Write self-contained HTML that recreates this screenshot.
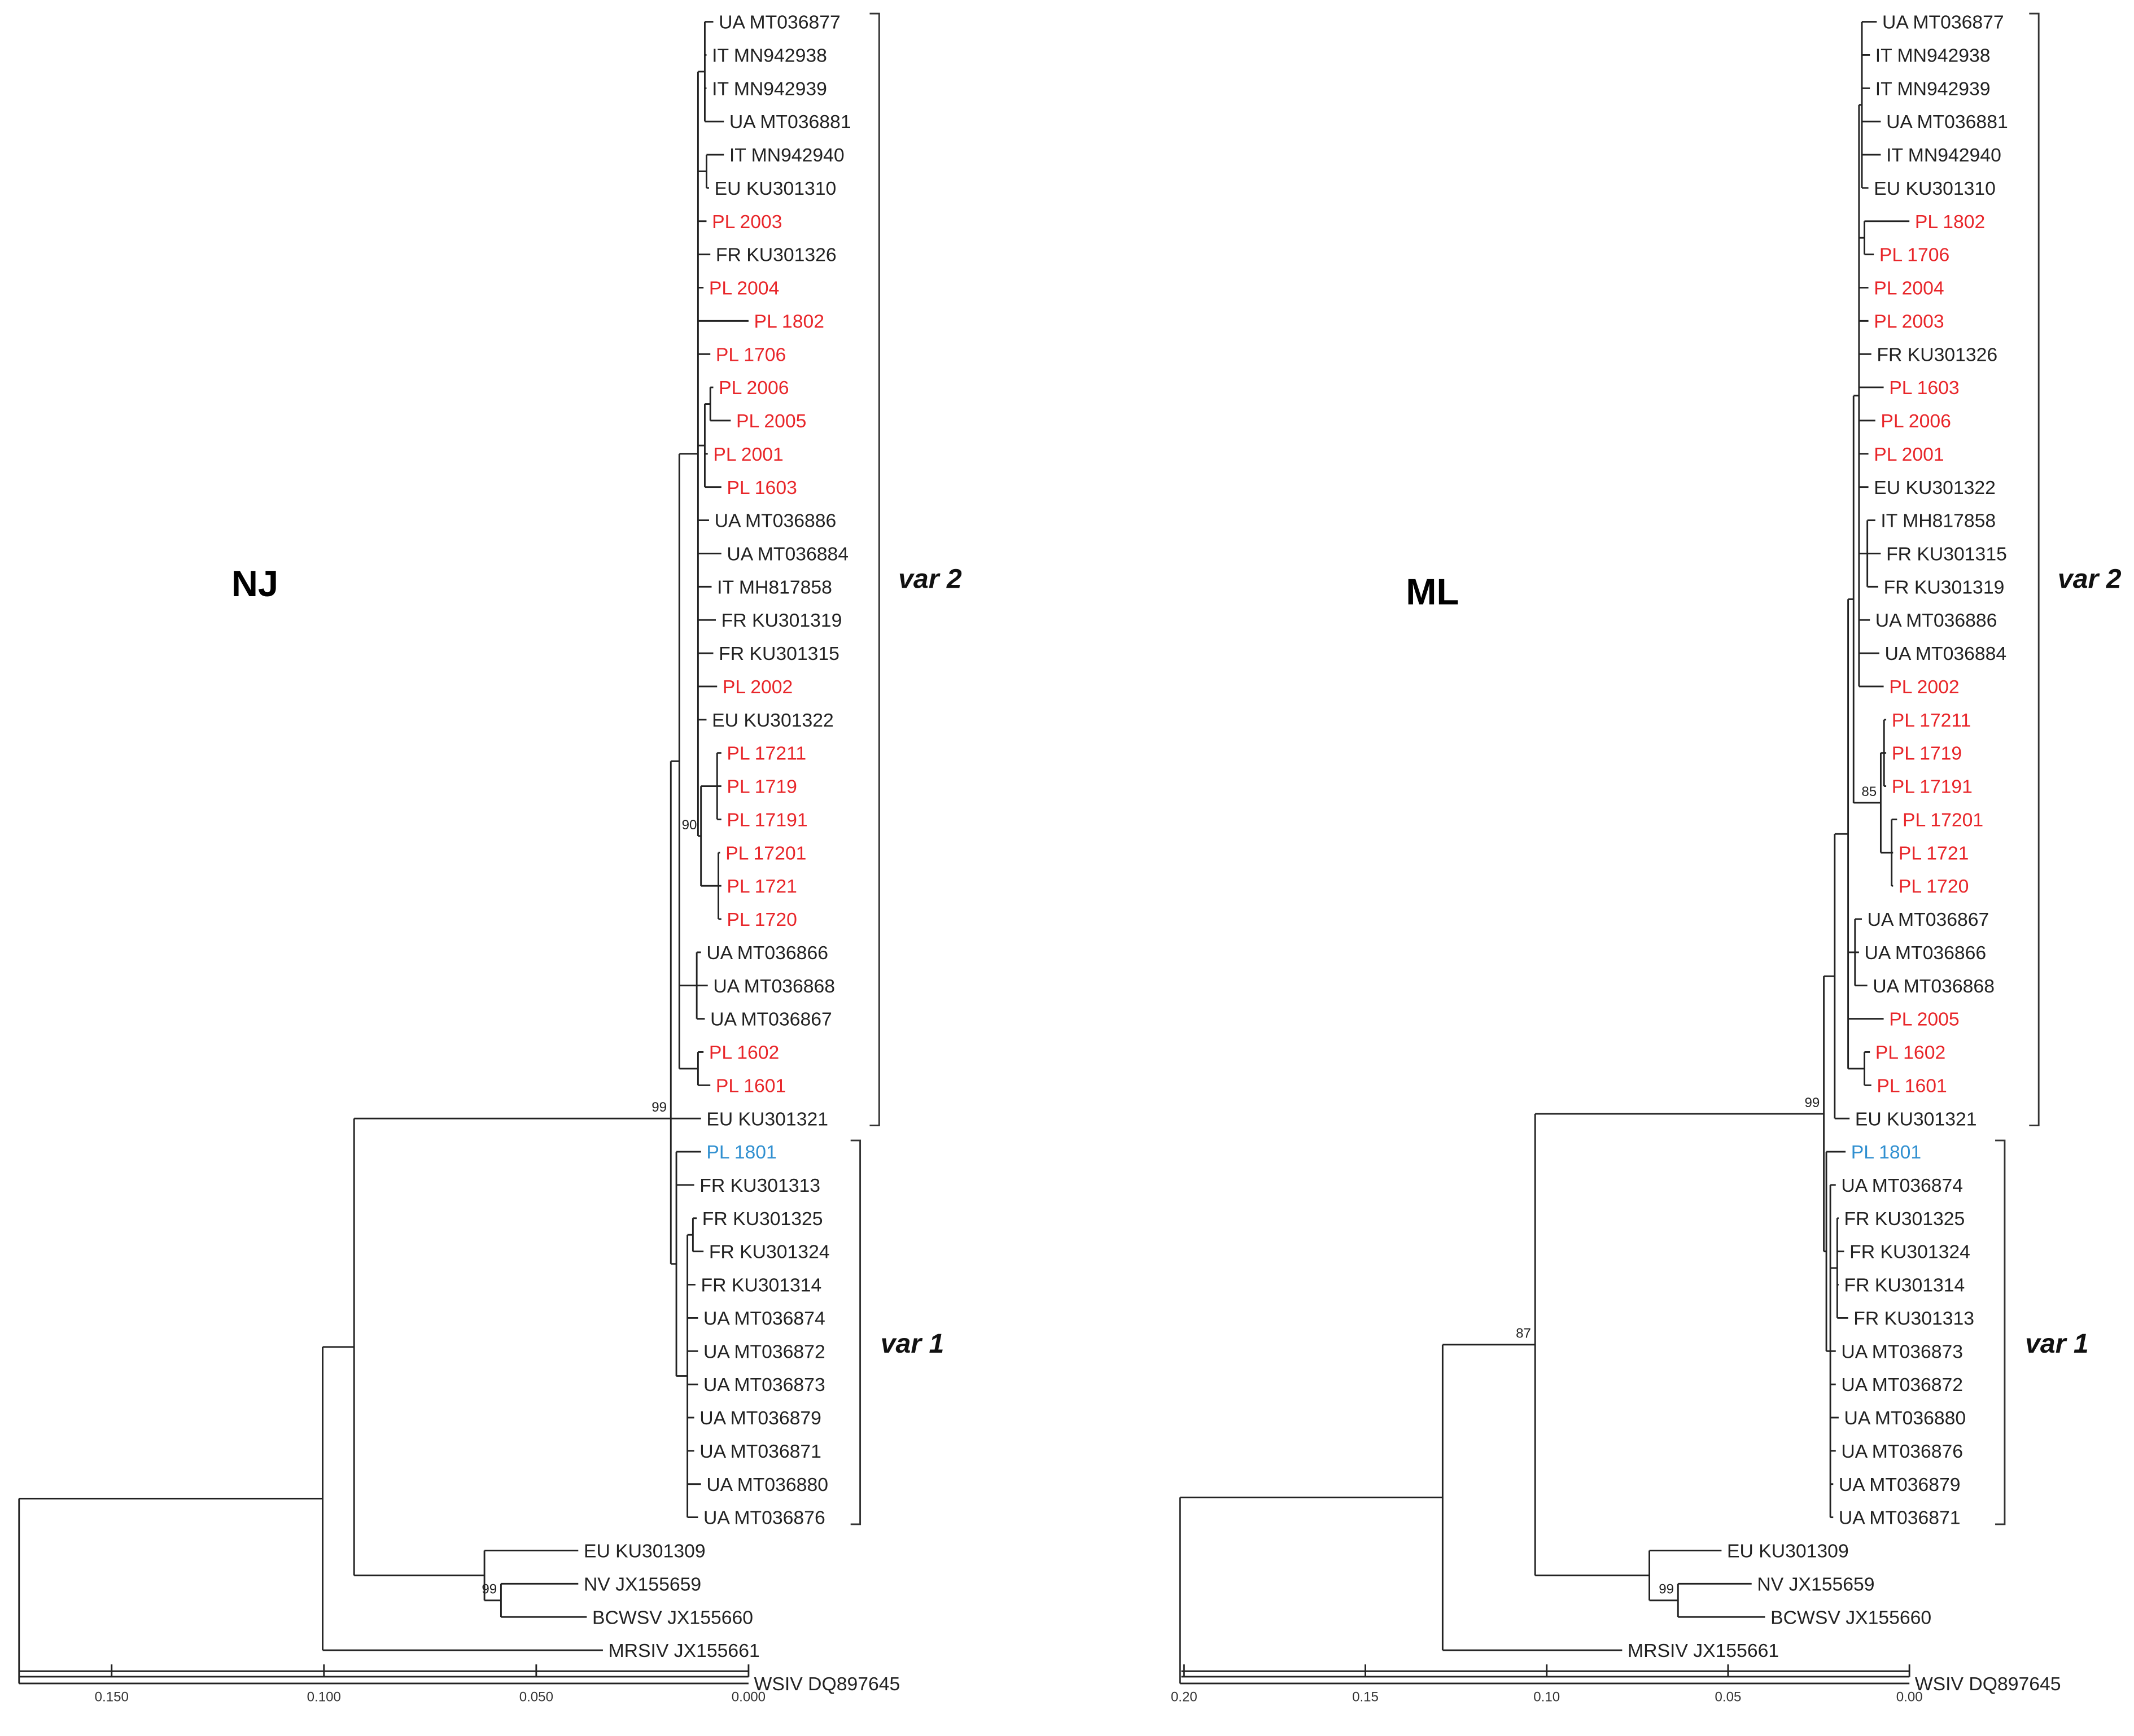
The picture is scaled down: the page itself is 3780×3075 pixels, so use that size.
<!DOCTYPE html>
<html><head><meta charset="utf-8"><style>
html,body{margin:0;padding:0;background:#fff;}
svg{display:block;}
text{font-family:"Liberation Sans",Arial,sans-serif;}
</style></head><body>
<svg id="fig" width="3780" height="3075" viewBox="0 0 1568 1275.6" xmlns="http://www.w3.org/2000/svg">
<rect width="1568" height="1275.6" fill="#fff"/>
<g id="nj"></g>
<g id="ml"></g>
<text x="170" y="438" font-size="27" font-weight="bold">NJ</text>
<text x="1033" y="444" font-size="27" font-weight="bold">ML</text>
</svg>
<script>
// ---- data ----
const RED = '#e8262a', BLUE = '#2f8fd0';
const njTicks = [0.150, 0.100, 0.050, 0.000];
const njTickLabels = ['0.150', '0.100', '0.050', '0.000'];
const mlTicks = [0.20, 0.15, 0.10, 0.05, 0.00];
const mlTickLabels = ['0.20', '0.15', '0.10', '0.05', '0.00'];
function L(n, h, col){ return {n:n, h:h, col:col||'#222'}; }
function N(h, c, boot, at){ return {h:h, c:c, boot:boot, at:at}; }
const njTree = N(0.1718, [
  N(0.1003, [
    N(0.0929, [
      N(0.0183, [
        N(0.0163, [
          N(0.0119, [
            N(0.0103, [L('UA MT036877',0.0083), L('IT MN942938',0.0099), L('IT MN942939',0.0099), L('UA MT036881',0.0058)]),
            N(0.0099, [L('IT MN942940',0.0058), L('EU KU301310',0.0093)]),
            L('PL 2003',0.0099,RED), L('FR KU301326',0.0090), L('PL 2004',0.0106,RED), L('PL 1802',0.0000,RED), L('PL 1706',0.0090,RED),
            N(0.0103, [N(0.0090,[L('PL 2006',0.0083,RED), L('PL 2005',0.0042,RED)]), L('PL 2001',0.0096,RED), L('PL 1603',0.0064,RED)]),
            L('UA MT036886',0.0093), L('UA MT036884',0.0064), L('IT MH817858',0.0087), L('FR KU301319',0.0077), L('FR KU301315',0.0083),
            L('PL 2002',0.0074,RED), L('EU KU301322',0.0099),
            N(0.0112, [N(0.0074,[L('PL 17211',0.0064,RED), L('PL 1719',0.0064,RED), L('PL 17191',0.0064,RED)]),
                       N(0.0071,[L('PL 17201',0.0067,RED), L('PL 1721',0.0064,RED), L('PL 1720',0.0064,RED)])], '90')
          ]),
          N(0.0122, [L('UA MT036866',0.0112), L('UA MT036868',0.0096), L('UA MT036867',0.0103)]),
          N(0.0119, [L('PL 1602',0.0106,RED), L('PL 1601',0.0090,RED)])
        ]),
        L('EU KU301321',0.0112),
        N(0.0170, [
          L('PL 1801',0.0112,BLUE), L('FR KU301313',0.0128),
          N(0.0144, [N(0.0131,[L('FR KU301325',0.0122), L('FR KU301324',0.0106)]), L('FR KU301314',0.0125),
            L('UA MT036874',0.0119), L('UA MT036872',0.0119), L('UA MT036873',0.0119), L('UA MT036879',0.0128),
            L('UA MT036871',0.0128), L('UA MT036880',0.0112), L('UA MT036876',0.0119)])
        ])
      ], '99', 1),
      N(0.0622, [L('EU KU301309',0.0401), N(0.0583,[L('NV JX155659',0.0401), L('BCWSV JX155660',0.0381)], '99')])
    ]),
    L('MRSIV JX155661',0.0343)
  ]),
  L('WSIV DQ897645',0.0000)
]);
const mlTree = N(0.2011, [
  N(0.1287, [
    N(0.1032, [
      N(0.0236, [
        N(0.0206, [
          N(0.0169, [
            N(0.0154, [
              N(0.0139, [
                N(0.0131, [L('UA MT036877',0.0090), L('IT MN942938',0.0109), L('IT MN942939',0.0109), L('UA MT036881',0.0079), L('IT MN942940',0.0079), L('EU KU301310',0.0113)]),
                N(0.0124, [L('PL 1802',0.0000,RED), L('PL 1706',0.0098,RED)]),
                L('PL 2004',0.0113,RED), L('PL 2003',0.0113,RED), L('FR KU301326',0.0105), L('PL 1603',0.0071,RED),
                L('PL 2006',0.0094,RED), L('PL 2001',0.0113,RED), L('EU KU301322',0.0113),
                N(0.0116, [L('IT MH817858',0.0094), L('FR KU301315',0.0079), L('FR KU301319',0.0086)]),
                L('UA MT036886',0.0109), L('UA MT036884',0.0083), L('PL 2002',0.0071,RED)
              ]),
              N(0.0079, [N(0.0070,[L('PL 17211',0.0064,RED), L('PL 1719',0.0064,RED), L('PL 17191',0.0064,RED)]),
                         N(0.0049,[L('PL 17201',0.0034,RED), L('PL 1721',0.0045,RED), L('PL 1720',0.0045,RED)])], '85')
            ]),
            N(0.0150, [L('UA MT036867',0.0131), L('UA MT036866',0.0139), L('UA MT036868',0.0116)]),
            L('PL 2005',0.0071,RED),
            N(0.0124, [L('PL 1602',0.0109,RED), L('PL 1601',0.0105,RED)])
          ]),
          L('EU KU301321',0.0165)
        ]),
        N(0.0229, [
          L('PL 1801',0.0176,BLUE),
          N(0.0218, [L('UA MT036874',0.0203),
            N(0.0199, [L('FR KU301325',0.0195), L('FR KU301324',0.0180), L('FR KU301314',0.0195), L('FR KU301313',0.0169)]),
            L('UA MT036873',0.0203), L('UA MT036872',0.0203), L('UA MT036880',0.0195), L('UA MT036876',0.0203),
            L('UA MT036879',0.0210), L('UA MT036871',0.0210)])
        ])
      ], '99'),
      N(0.0717, [L('EU KU301309',0.0518), N(0.0638,[L('NV JX155659',0.0435), L('BCWSV JX155660',0.0398)], '99')])
    ], '87'),
    L('MRSIV JX155661',0.0792)
  ]),
  L('WSIV DQ897645',0.0000)
]);

// ---- drawing ----
const NS = 'http://www.w3.org/2000/svg';
function rowY(i){ return 16 + 24.42*i; }
function mk(parent, tag, attrs){ const e=document.createElementNS(NS,tag); for(const k in attrs) e.setAttribute(k,attrs[k]); parent.appendChild(e); return e; }
function line(g,x1,y1,x2,y2){
  const l = mk(g,'line',{x1:x1,y1:y1,x2:x2,y2:y2,stroke:'#222','stroke-width':1.2});
  
  
  return l;
}
function drawTree(g, tree, xs){
  let row = 0;
  function layout(n){
    if(!n.c){ n.y = rowY(row++); return n.y; }
    n.c.forEach(layout);
    n.y = (n.at !== undefined) ? n.c[n.at].y : (n.c[0].y + n.c[n.c.length-1].y)/2;
    return n.y;
  }
  layout(tree);
  function draw(n){
    if(!n.c){
      const t = mk(g,'text',{x:xs(n.h)+4, y:n.y+5, 'font-size':14, fill:n.col});
      t.textContent = n.n;
      
      
      return;
    }
    const x = xs(n.h);
    line(g, x, n.c[0].y, x, n.c[n.c.length-1].y);
    n.c.forEach(ch => { line(g, x, ch.y, xs(ch.h), ch.y); draw(ch); });
    if(n.boot){
      const b = mk(g,'text',{x:x-3, y:n.y-5, 'font-size':10, 'text-anchor':'end', fill:'#222'});
      b.textContent = n.boot;
      
      
    }
  }
  draw(tree);
}
function drawAxis(g, xs, ticks, labels, x0, y){
  line(g, x0, y-2, xs(0), y-2); line(g, x0, y+2, xs(0), y+2);
  ticks.forEach((v,i) => {
    line(g, xs(v), y-7, xs(v), y+2);
    const t = mk(g,'text',{x:xs(v), y:y+20, 'font-size':10, 'text-anchor':'middle', fill:'#333'});
    t.textContent = labels[i];
    
    
  });
}
function bracket(g, x, y1, y2, label, lx, ly){
  const p = mk(g,'path',{d:`M${x-7},${y1} H${x} V${y2} H${x-7}`, fill:'none', stroke:'#333','stroke-width':1.2});
  
  
  const t = mk(g,'text',{x:lx, y:ly, 'font-size':20, 'font-weight':'bold', 'font-style':'italic', fill:'#111'});
  t.textContent = label;
  
  
}
const njX = d => 550 - d*3120;
const mlX = d => 1403 - d*2665;
const gnj = document.getElementById('nj'), gml = document.getElementById('ml');
drawTree(gnj, njTree, njX);
drawAxis(gnj, njX, njTicks, njTickLabels, 14, 1230);
bracket(gnj, 646, 10, 827, 'var 2', 660, 432);
bracket(gnj, 632, 838, 1120, 'var 1', 647, 994);
drawTree(gml, mlTree, mlX);
drawAxis(gml, mlX, mlTicks, mlTickLabels, 868, 1230);
bracket(gml, 1498, 10, 827, 'var 2', 1512, 432);
bracket(gml, 1473, 838, 1120, 'var 1', 1488, 994);
</script>
</body></html>
